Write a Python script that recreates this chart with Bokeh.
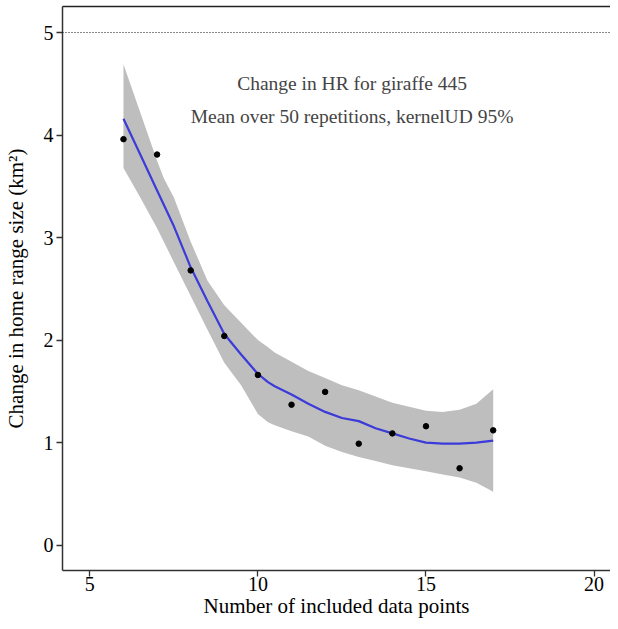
from bokeh.plotting import figure
from bokeh.models import ColumnDataSource, FixedTicker, LinearAxis, Range1d, Span, Label
from bokeh.embed import file_html
from bokeh.resources import INLINE

# ---- data ----
n_points = [6, 7, 8, 9, 10, 11, 12, 13, 14, 15, 16, 17]
hr_change = [3.96, 3.81, 2.68, 2.04, 1.66, 1.37, 1.495, 0.99, 1.09, 1.16, 0.75, 1.12]

fit_x = [6, 6.5, 7, 7.2, 7.5, 8, 8.5, 9, 9.5, 10, 10.3, 10.5, 11, 11.5, 12, 12.5,
         13, 13.5, 14, 14.5, 15, 15.5, 16, 16.5, 17]
fit_y = [4.16, 3.81, 3.46, 3.32, 3.11, 2.71, 2.38, 2.06, 1.86, 1.67, 1.59, 1.55, 1.47,
         1.38, 1.30, 1.24, 1.21, 1.14, 1.09, 1.04, 1.00, 0.99, 0.99, 1.00, 1.02]
fit_upper = [4.69, 4.22, 3.75, 3.58, 3.39, 2.96, 2.58, 2.34, 2.17, 2.00, 1.93, 1.88, 1.79,
             1.70, 1.63, 1.56, 1.51, 1.45, 1.39, 1.35, 1.31, 1.30, 1.32, 1.38, 1.52]
fit_lower = [3.68, 3.39, 3.09, 2.96, 2.76, 2.43, 2.10, 1.78, 1.56, 1.28, 1.20, 1.17, 1.11,
             1.06, 0.97, 0.91, 0.86, 0.82, 0.78, 0.75, 0.72, 0.69, 0.66, 0.61, 0.52]

x_ticks = [5, 10, 15, 20]
y_ticks = [0, 1, 2, 3, 4, 5]
ref_level = 5

title_line1 = "Change in HR for giraffe 445"
title_line2 = "Mean over 50 repetitions, kernelUD 95%"

FONT = "Liberation Serif"

p = figure(width=610, height=621, output_backend="svg", toolbar_location=None,
           x_range=Range1d(4.186, 20.49), y_range=Range1d(-0.247, 5.254),
           min_border_left=61, min_border_right=0, min_border_top=6, min_border_bottom=51)
p.outline_line_color = None
p.grid.visible = False
p.background_fill_color = "white"
p.border_fill_color = "white"

band_src = ColumnDataSource(dict(x=fit_x, lo=fit_lower, hi=fit_upper, y=fit_y))
p.varea(x="x", y1="lo", y2="hi", source=band_src, fill_color="#bebebe")
p.line(x="x", y="y", source=band_src, line_color="#3b3bd9", line_width=2.2)
p.scatter(x=n_points, y=hr_change, size=5.5, color="black")

p.add_layout(Span(location=ref_level, dimension="width", line_color="#111111",
                  line_width=1.1, line_dash="1 2"))

p.add_layout(Label(x=12.8, y=4.50, text=title_line1, text_align="center",
                   text_baseline="middle", text_font=FONT, text_font_size="19.5px"))
p.add_layout(Label(x=12.8, y=4.18, text=title_line2, text_align="center",
                   text_baseline="middle", text_font=FONT, text_font_size="19.5px"))

for ax in (p.xaxis[0], p.yaxis[0]):
    ax.axis_line_color = "#333333"
    ax.axis_line_width = 1.5
    ax.major_tick_line_color = "#333333"
    ax.major_tick_line_width = 1.3
    ax.major_tick_out = 6
    ax.major_tick_in = 0
    ax.minor_tick_line_color = None
    ax.major_label_text_font = FONT
    ax.major_label_text_font_size = "20px"
    ax.major_label_text_color = "black"
    ax.axis_label_text_font = FONT
    ax.axis_label_text_font_size = "21px"
    ax.axis_label_text_font_style = "normal"
    ax.axis_label_text_color = "black"

p.xaxis[0].ticker = FixedTicker(ticks=x_ticks)
p.yaxis[0].ticker = FixedTicker(ticks=y_ticks)
p.xaxis[0].axis_label = "Number of included data points"
p.yaxis[0].axis_label = "Change in home range size (km²)"
p.xaxis[0].major_label_standoff = 0
p.xaxis[0].axis_label_standoff = 0
p.yaxis[0].major_label_standoff = 3
p.yaxis[0].axis_label_standoff = 13

top = LinearAxis(ticker=FixedTicker(ticks=[]), axis_line_color="#222222", axis_line_width=1.5,
                 major_tick_line_color=None, minor_tick_line_color=None,
                 major_tick_out=0, major_tick_in=0, major_label_standoff=0,
                 axis_label_standoff=0, major_label_text_font_size="0px")
p.add_layout(top, "above")

open("out.html", "w").write(file_html(p, INLINE))
